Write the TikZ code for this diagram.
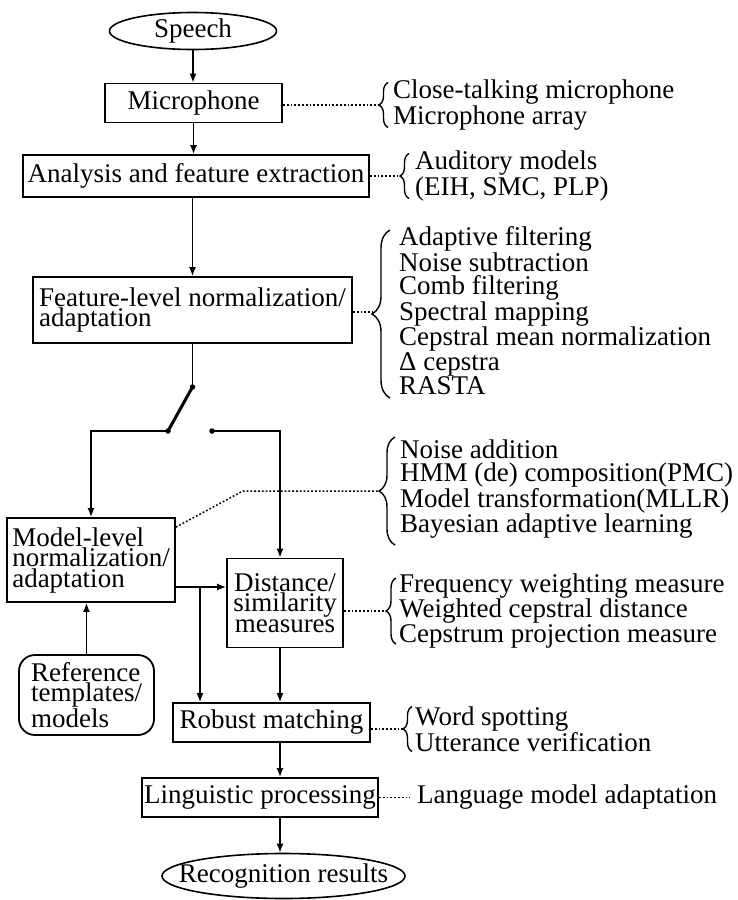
\documentclass[tikz,border=0pt]{standalone}
\usepackage{fontspec}
\setmainfont{Liberation Serif}
\usetikzlibrary{arrows.meta,decorations.pathreplacing,shapes.geometric,calc}

\begin{document}
\begin{tikzpicture}[x=1pt,y=-1pt,
  font=\fontsize{27}{20.5}\selectfont,
  blk/.style={draw,line width=1.8pt,inner sep=0pt,align=center},
  oval/.style={draw,ellipse,line width=1.6pt,inner sep=0pt},
  flow/.style={line width=1.5pt,-{Latex[length=9pt,width=7pt]}},
  wire/.style={line width=1.5pt},
  dots/.style={line width=1.5pt,dash pattern=on 1.8pt off 2pt},
  curly/.style={decorate,decoration={brace,amplitude=#1},line width=1.4pt},
  items/.style={anchor=west,align=left,inner sep=0pt,font=\fontsize{27}{23}\selectfont},
  pin/.style={circle,fill,inner sep=0pt,minimum size=5.5pt}]
\useasboundingbox (0,0) rectangle (737,900);

% main chain
\node[oval,minimum width=167pt,minimum height=37pt,label={center:Speech}] (speech) at (193,31) {};
\node[blk,minimum width=177pt,minimum height=39pt] (mic) at (193.5,103) {Microphone};
\node[blk,minimum width=346pt,minimum height=42pt] (ana) at (196,176) {Analysis and feature extraction};
\node[blk,minimum width=319pt,minimum height=66pt,align=left] (feat) at (192.5,310) {Feature-level normalization/\\adaptation};

\draw[flow] (speech.south) -- (speech.south |- mic.north);
\draw[flow] (mic.south) -- (mic.south |- ana.north);
\draw[flow] (ana.south -| feat.north) -- (feat.north);

% switch
\node[pin] (pivot) at (192.5,387) {};
\node[pin] (cA) at (168,431) {};
\node[pin] (cB) at (212,431) {};
\draw[wire] (feat.south) -- (pivot.center);
\draw[line width=3pt,line cap=round] (pivot.center) -- (cA.center);

% lower blocks
\node[blk,minimum width=168pt,minimum height=84pt,align=left] (model) at (91,560) {Model-level\\normalization/\\adaptation};
\node[blk,minimum width=116pt,minimum height=89pt] (dist) at (285,603) {Distance/\\similarity\\measures};
\node[blk,rounded corners=16pt,minimum width=135pt,minimum height=80pt,align=left] (ref) at (86.5,695) {Reference\\templates/\\models};
\node[blk,minimum width=197pt,minimum height=39pt] (robust) at (271.5,722.5) {Robust matching};
\node[blk,minimum width=236pt,minimum height=39pt] (ling) at (260,797.5) {Linguistic processing};
\node[oval,minimum width=243pt,minimum height=45pt,label={center:Recognition results}] (rec) at (283.5,876) {};

\coordinate (spine) at (280,0);
\coordinate (j) at (200,587);

\draw[flow] (cA.center) -| (model.north);
\draw[flow] (cB.center) -| (dist.north -| spine);
\draw[flow] (ref.north) -- (ref.north |- model.south);
\draw[flow] (model.east |- j) -- (dist.west |- j);
\draw[flow] (j) -- (j |- robust.north);
\draw[flow] (dist.south -| spine) -- (robust.north -| spine);
\draw[flow] (robust.south -| spine) -- (ling.north -| spine);
\draw[flow] (ling.south -| spine) -- (rec.north -| spine);

% annotation lists
% microphone
\coordinate (t1) at (379,105);
\draw[dots] (mic.east |- t1) -- (t1);
\draw[curly=9pt] (388,127.5) -- (388,82.5);
\node[items] (l1) at (393,105) {Close-talking microphone\\Microphone array};

% analysis
\coordinate (t2) at (400,176);
\draw[dots] (ana.east |- t2) -- (t2);
\draw[curly=9pt] (409,198.5) -- (409,153.5);
\node[items] (l2) at (415,176) {Auditory models\\(EIH, SMC, PLP)};

% feature level
\coordinate (t3) at (372,312);
\draw[dots] (feat.east |- t3) -- (t3);
\draw[curly=18pt] (390,398) -- (390,230);
\node[items] (l3) at (399,311) {Adaptive filtering\\Noise subtraction\\Comb filtering\\Spectral mapping\\Cepstral mean normalization\\Δ cepstra\\RASTA};

% model level
\coordinate (t4) at (379,491);
\coordinate (k4) at (243,491);
\draw[dots] ($(model.north east)+(0,10)$) -- (k4) -- (t4);
\draw[curly=16pt] (395,545) -- (395,437);
\node[items] (l4) at (400,489) {Noise addition\\HMM (de) composition(PMC)\\Model transformation(MLLR)\\Bayesian adaptive learning};

% distance
\coordinate (t5) at (386,611);
\draw[dots] (dist.east |- t5) -- (t5);
\draw[curly=10pt] (396,644) -- (396,578);
\node[items] (l5) at (399,611) {Frequency weighting measure\\Weighted cepstral distance\\Cepstrum projection measure};

% robust matching
\coordinate (t6) at (403,729);
\draw[dots] (robust.east |- t6) -- (t6);
\draw[curly=9pt] (412,751.5) -- (412,706.5);
\node[items] (l6) at (415,729) {Word spotting\\Utterance verification};

% linguistic
\coordinate (t7) at (410,797.5);
\draw[dots] (ling.east) -- (t7);
\node[items] (l7) at (417,797.5) {Language model adaptation};
\end{tikzpicture}
\end{document}
